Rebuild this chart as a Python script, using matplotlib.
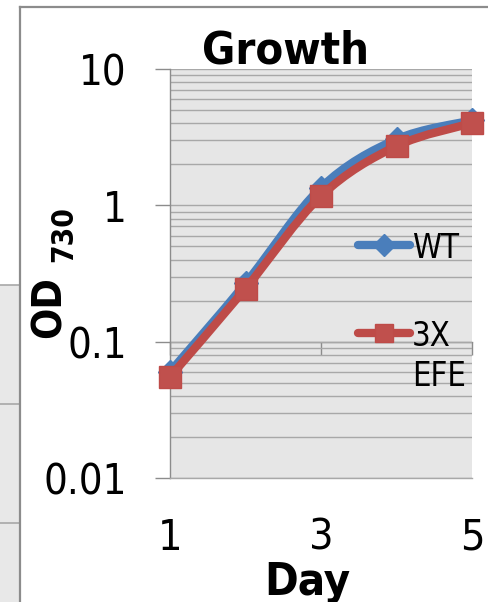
import numpy as np
import matplotlib
matplotlib.use('Agg')
import matplotlib.pyplot as plt
from matplotlib.path import Path
from matplotlib.patches import PathPatch, Rectangle
from matplotlib.lines import Line2D
from matplotlib.ticker import LogLocator, FixedLocator, NullFormatter

# ---------------- data ----------------
days = [1, 2, 3, 4, 5]
wt = [0.060, 0.268, 1.35, 3.05, 4.2]
efe = [0.0552, 0.245, 1.17, 2.72, 4.01]
series_names = ['WT', '3X', 'EFE']
x_ticks = [1, 3, 5]
y_ticks = [0.01, 0.1, 1, 10]
y_tick_labels = ['0.01', '0.1', '1', '10']
title_text = 'Growth'
x_label = 'Day'

BLUE = '#4a7ebb'
RED = '#be4b48'
RED_FILL = '#c0504d'
GRID = '#a8a8a8'
AXC = '#8c8c8c'

W, H = 488, 602
fig = plt.figure(figsize=(W / 100, H / 100), dpi=100)
PT = 100 / 72.0  # px per point


def fx(x):
    return x / W


def fy(y):
    return 1 - y / H


FONT = dict(family='DejaVu Sans', stretch='condensed')

# background decorations (chart border and a table behind on the left)
fig.patches.append(Rectangle((0, fy(602)), fx(20), fy(285) - fy(602),
                             transform=fig.transFigure, facecolor='#e8e8e8',
                             edgecolor='none', zorder=0))
for yy in [285, 404, 523]:
    fig.add_artist(Line2D([0, fx(20)], [fy(yy), fy(yy)], transform=fig.transFigure,
                          color=GRID, lw=1.2))
fig.add_artist(Line2D([fx(20), fx(20)], [fy(7), 0], transform=fig.transFigure,
                      color=AXC, lw=1.6))
fig.add_artist(Line2D([fx(20), 1], [fy(7), fy(7)], transform=fig.transFigure,
                      color=AXC, lw=1.6))

# ---------------- axes ----------------
ax = fig.add_axes([fx(170), fy(478), (472 - 170) / W, (478 - 69) / H])
ax.set_facecolor('#e6e6e6')
ax.set_yscale('log')
ax.set_ylim(y_ticks[0], y_ticks[-1])
ax.set_xlim(days[0], days[-1])

ax.yaxis.set_major_locator(FixedLocator(y_ticks))
ax.set_yticklabels(y_tick_labels, **FONT)
ax.yaxis.set_minor_locator(LogLocator(base=10, subs=np.arange(2, 10)))
ax.yaxis.set_minor_formatter(NullFormatter())
ax.grid(True, which='both', axis='y', color=GRID, lw=1)
ax.set_axisbelow(True)
ax.tick_params(axis='y', which='minor', length=0)
ax.tick_params(axis='y', which='major', length=15 / PT, width=1, color=AXC,
               pad=28 / PT, labelsize=30)

ax.set_xticks(x_ticks)
ax.set_xticklabels([str(t) for t in x_ticks], **FONT)
ax.tick_params(axis='x', length=0, pad=28, labelsize=31)

for s in ['top', 'right']:
    ax.spines[s].set_visible(False)
ax.spines['left'].set_color(AXC)
ax.spines['left'].set_linewidth(1)
ax.spines['bottom'].set_color(GRID)
ax.spines['bottom'].set_linewidth(1)

# horizontal axis crossing at 0.1
ylo, yhi = np.log10(ax.get_ylim())
cross = (np.log10(0.1) - ylo) / (yhi - ylo)
sec = ax.secondary_xaxis(cross)
sec.set_xticks(x_ticks)
sec.tick_params(axis='x', length=13 / PT, width=1, color=AXC, direction='out',
                labelbottom=False, labeltop=False)
for s in ['top', 'bottom']:
    sec.spines[s].set_color(AXC)
    sec.spines[s].set_linewidth(1)


# smoothed (Excel-style) line through the points
def smooth_path(xs, ys):
    P = np.column_stack([np.asarray(xs, float), np.log10(np.asarray(ys, float))])
    n = len(P)
    verts = [P[0]]
    codes = [Path.MOVETO]
    for i in range(n - 1):
        p0 = P[max(i - 1, 0)]
        p1 = P[i]
        p2 = P[i + 1]
        p3 = P[min(i + 2, n - 1)]
        c1 = p1 + (p2 - p0) / 6.0
        c2 = p2 - (p3 - p1) / 6.0
        verts += [c1, c2, p2]
        codes += [Path.CURVE4] * 3
    V = np.array(verts)
    V[:, 1] = 10 ** V[:, 1]
    return Path(V, codes)


for vals, col, z in [(wt, BLUE, 3), (efe, RED, 5)]:
    pp = PathPatch(smooth_path(days, vals), fill=False, edgecolor=col, lw=6,
                   capstyle='round', joinstyle='round', zorder=z, clip_on=False)
    ax.add_patch(pp)

ax.plot(days, wt, ls='none', marker='D', ms=12, color=BLUE, mec=BLUE,
        zorder=4, clip_on=False)
ax.plot(days, efe, ls='none', marker='s', ms=16.5, color=RED_FILL, mec=RED,
        zorder=6, clip_on=False)

# ---------------- legend ----------------
for yy, col, mk, ms in [(245, BLUE, 'D', 11), (333, RED, 's', 13)]:
    fig.add_artist(Line2D([fx(358), fx(410)], [fy(yy), fy(yy)],
                          transform=fig.transFigure, color=col, lw=6,
                          solid_capstyle='round', zorder=10))
    fig.add_artist(Line2D([fx(384)], [fy(yy)], transform=fig.transFigure,
                          ls='none', marker=mk, ms=ms, color=col if mk == 'D' else RED_FILL,
                          mec=col, zorder=11))
fig.text(fx(412), fy(245), series_names[0], fontsize=23.5, ha='left',
         va='center_baseline', **FONT)
fig.text(fx(412), fy(333), series_names[1], fontsize=23.5, ha='left',
         va='center_baseline', **FONT)
fig.text(fx(412), fy(373), series_names[2], fontsize=23.5, ha='left',
         va='center_baseline', **FONT)

# ---------------- titles ----------------
fig.text(fx(285), fy(63), title_text, fontsize=32.5, fontweight='bold',
         ha='center', va='baseline', **FONT)
fig.text(fx(307), fy(595), x_label, fontsize=32.5, fontweight='bold',
         ha='center', va='baseline', **FONT)
fig.text(fx(50), fy(307), 'OD', rotation=90, fontsize=29.5, fontweight='bold',
         ha='center', va='center', **FONT)
fig.text(fx(64), fy(234), '730', rotation=90, fontsize=21.5, fontweight='bold',
         ha='center', va='center', **FONT)

fig.savefig('out.png', dpi=100)
